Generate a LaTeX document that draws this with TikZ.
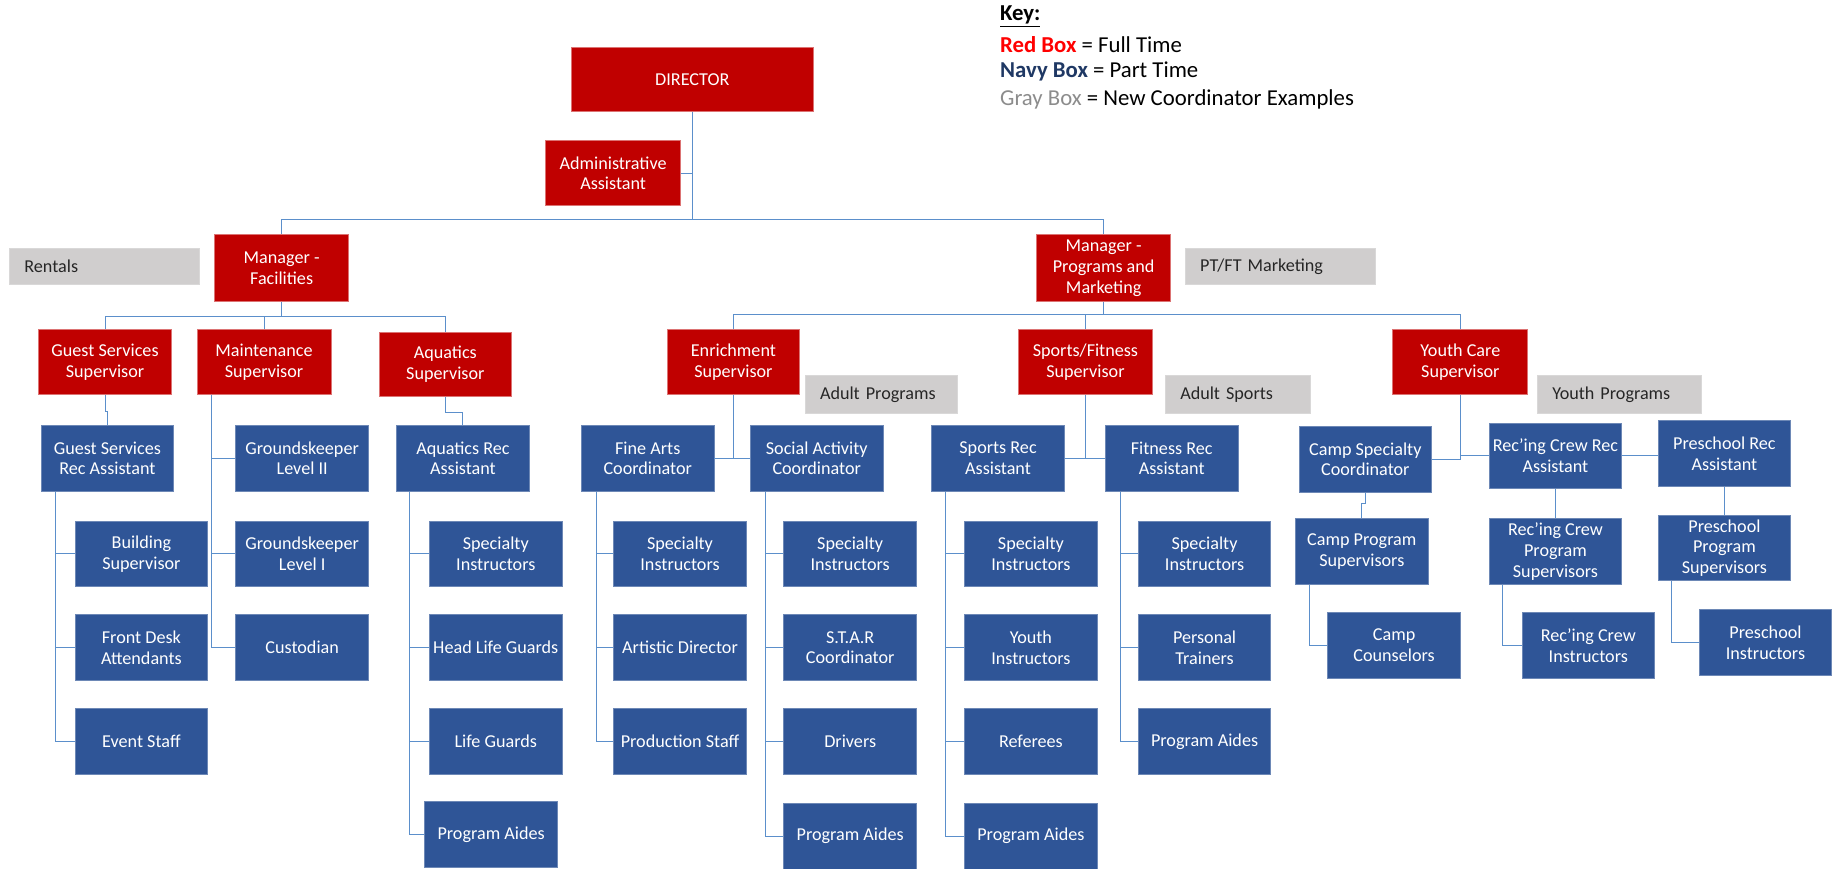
\documentclass[tikz,border=0pt]{standalone}
\usepackage{fontspec}
\setmainfont{Carlito}
\usepackage{tikz}
\usetikzlibrary{calc,positioning}
\definecolor{fullred}{HTML}{C00000}
\definecolor{partnavy}{HTML}{2F5597}
\definecolor{newgray}{HTML}{D0CECE}
\definecolor{linkblue}{HTML}{5B8FCB}
\definecolor{keyred}{HTML}{FF0000}
\definecolor{keynavy}{HTML}{1F3864}
\definecolor{keygray}{HTML}{8C8C8C}
\tikzstyle{link}=[
  draw=linkblue,
  line width=0.6pt,
]
\tikzstyle{box}=[
  align=center,
  inner sep=1pt,
  minimum width=2.825cm,
  minimum height=1.4cm,
  text=white,
  line width=0.5pt,
  font=\fontsize{11}{12.5}\selectfont,
]
\tikzstyle{redbox}=[box, fill=fullred, draw=fullred!55!white]
\tikzstyle{navybox}=[box, fill=partnavy, draw=partnavy!70!white]
\tikzstyle{keytext}=[anchor=west, inner sep=0pt, font=\fontsize{13.8}{16}\selectfont]
\tikzset{
  graybox/.style={
    fill=newgray, draw=newgray!80!white, text=black!85,
    align=left, inner xsep=0.32cm, inner ysep=1pt,
    minimum height=0.78cm, text width=#1,
    font=\fontsize{11}{12.5}\selectfont,
  },
}

\begin{document}
\begin{tikzpicture}[x=0.025cm, y=-0.025cm]
  \useasboundingbox (0,0) rectangle (1568,740);

  % key
  \node[keytext] (keyhead) at (852,14) {\underline{\textbf{Key:}}};
  \node[keytext] (keyred) at (852,38) {\textbf{\color{keyred}Red Box} = Full Time};
  \node[keytext] (keynavy) at (852,61) {\textbf{\color{keynavy}Navy Box} = Part Time};
  \node[keytext] (keygray) at (852,85) {{\color{keygray}Gray Box} = New Coordinator Examples};

  \node[redbox, minimum width=5.15cm, minimum height=1.375cm] (dir) at (590,67.5) {DIRECTOR};
  \node[redbox, minimum width=2.875cm, minimum height=1.375cm] (admin) at (522.5,147.5) {Administrative\\Assistant};
  \node[redbox, minimum width=2.85cm, minimum height=1.425cm] (mfac) at (240,228.5) {Manager -\\Facilities};
  \node[redbox, minimum width=2.85cm, minimum height=1.425cm] (mprog) at (940.5,228.5) {Manager -\\Programs and\\Marketing};
  \node[graybox=3.41cm] (rentals) at (89,227) {Rentals};
  \node[graybox=3.41cm] (ptft) at (1091,227) {PT/FT Marketing};

  \coordinate (topbus) at (590,187);
  \draw[link] (dir.south) -- (topbus) -| (mfac.north);
  \draw[link] (topbus) -| (mprog.north);
  \draw[link] (admin.east) -| (topbus);

  % facilities
  \node[redbox, minimum height=1.375cm] (gss) at (89.5,308.5) {Guest Services\\Supervisor};
  \node[redbox, minimum height=1.375cm, minimum width=2.85cm] (mts) at (225,308.5) {Maintenance\\Supervisor};
  \node[redbox, minimum height=1.375cm] (aqs) at (379.5,310.5) {Aquatics\\Supervisor};
  \coordinate (facbus) at (240,270);
  \draw[link] (mfac.south) -- (facbus) -| (gss.north);
  \draw[link] (facbus) -| (mts.north);
  \draw[link] (facbus) -| (aqs.north);

  \node[navybox] (gsra) at (91.5,390.5) {Guest Services\\Rec Assistant};
  \node[navybox] (bsup) at (120.5,472) {Building\\Supervisor};
  \node[navybox] (fda) at (120.5,552) {Front Desk\\Attendants};
  \node[navybox] (evs) at (120.5,632) {Event Staff};
  \draw[link] (gss.south) -- ++(0,14) -| (gsra.north);
  \foreach \c in {bsup,fda,evs}
    \draw[link] ($(gsra.south west)+(13,0)$) |- (\c.west);

  \node[navybox] (gk2) at (257.5,390.5) {Groundskeeper\\Level II};
  \node[navybox] (gk1) at (257.5,472) {Groundskeeper\\Level I};
  \node[navybox] (cust) at (257.5,552) {Custodian};
  \foreach \c in {gk2,gk1,cust}
    \draw[link] ($(mts.south west)+(13,0)$) |- (\c.west);

  \node[navybox] (aqra) at (394.5,390.5) {Aquatics Rec\\Assistant};
  \node[navybox] (aqsi) at (422.5,472) {Specialty\\Instructors};
  \node[navybox] (hlg) at (422.5,552) {Head Life Guards};
  \node[navybox] (lg) at (422.5,632) {Life Guards};
  \node[navybox] (aqpa) at (418.5,711) {Program Aides};
  \draw[link] (aqs.south) -- ++(0,13) -| (aqra.north);
  \foreach \c in {aqsi,hlg,lg,aqpa}
    \draw[link] ($(aqra.south west)+(11,0)$) |- (\c.west);

  % programs and marketing
  \node[redbox, minimum height=1.375cm] (ens) at (625,308.5) {Enrichment\\Supervisor};
  \node[redbox, minimum height=1.375cm, minimum width=2.85cm] (sfs) at (925,308.5) {Sports/Fitness\\Supervisor};
  \node[redbox, minimum height=1.375cm, minimum width=2.875cm] (ycs) at (1244.5,308.5) {Youth Care\\Supervisor};
  \node[graybox=2.61cm, minimum height=0.8cm] (adp) at (751,336) {Adult Programs};
  \node[graybox=2.46cm, minimum height=0.8cm] (ads) at (1055,336) {Adult Sports};
  \node[graybox=2.86cm, minimum height=0.8cm] (ytp) at (1380,336) {Youth Programs};
  \coordinate (progbus) at (940.5,268);
  \draw[link] (mprog.south) -- (progbus) -| (ens.north);
  \draw[link] (progbus) -| (sfs.north);
  \draw[link] (progbus) -| (ycs.north);

  \node[navybox] (fac) at (552,390.5) {Fine Arts\\Coordinator};
  \node[navybox] (sac) at (696,390.5) {Social Activity\\Coordinator};
  \draw[link] (ens.south) -- (ens.south |- fac.east);
  \draw[link] (fac.east) -- (sac.west);

  \node[navybox] (fasi) at (579.5,472) {Specialty\\Instructors};
  \node[navybox] (ard) at (579.5,552) {Artistic Director};
  \node[navybox] (prs) at (579.5,632) {Production Staff};
  \foreach \c in {fasi,ard,prs}
    \draw[link] ($(fac.south west)+(13,0)$) |- (\c.west);

  \node[navybox] (sasi) at (724.5,472) {Specialty\\Instructors};
  \node[navybox] (star) at (724.5,552) {S.T.A.R\\Coordinator};
  \node[navybox] (drv) at (724.5,632) {Drivers};
  \node[navybox] (sapa) at (724.5,712.5) {Program Aides};
  \foreach \c in {sasi,star,drv,sapa}
    \draw[link] ($(sac.south west)+(13,0)$) |- (\c.west);

  \node[navybox] (srra) at (850.5,390.5) {Sports Rec\\Assistant};
  \node[navybox] (frra) at (998.5,390.5) {Fitness Rec\\Assistant};
  \draw[link] (sfs.south) -- (sfs.south |- srra.east);
  \draw[link] (srra.east) -- (frra.west);

  \node[navybox] (srsi) at (878.5,472) {Specialty\\Instructors};
  \node[navybox] (yin) at (878.5,552) {Youth\\Instructors};
  \node[navybox] (refs) at (878.5,632) {Referees};
  \node[navybox] (srpa) at (878.5,712.5) {Program Aides};
  \foreach \c in {srsi,yin,refs,srpa}
    \draw[link] ($(srra.south west)+(12,0)$) |- (\c.west);

  \node[navybox] (frsi) at (1026.5,472) {Specialty\\Instructors};
  \node[navybox] (ptr) at (1026.5,552) {Personal\\Trainers};
  \node[navybox] (frpa) at (1026.5,632) {Program Aides};
  \foreach \c in {frsi,ptr,frpa}
    \draw[link] ($(frra.south west)+(13,0)$) |- (\c.west);

  % youth care
  \node[navybox] (csc) at (1163.5,391.5) {Camp Specialty\\Coordinator};
  \node[navybox] (rcra) at (1325.5,388.5) {Rec’ing Crew Rec\\Assistant};
  \node[navybox] (psra) at (1469.5,386.5) {Preschool Rec\\Assistant};
  \draw[link] (ycs.south) |- (rcra.west);
  \draw[link] (ycs.south |- rcra.west) |- (csc.east);
  \draw[link] (rcra.east) -- (rcra.east -| psra.west);

  \node[navybox] (cps) at (1160.5,470) {Camp Program\\Supervisors};
  \node[navybox] (cc) at (1188,550) {Camp\\Counselors};
  \draw[link] (csc.south) -- ++(0,9) -| (cps.north);
  \draw[link] ($(cps.south west)+(12,0)$) |- (cc.west);

  \node[navybox] (rcps) at (1325.5,470) {Rec’ing Crew\\Program\\Supervisors};
  \node[navybox] (rci) at (1353.5,550) {Rec’ing Crew\\Instructors};
  \draw[link] (rcra.south) -- (rcps.north);
  \draw[link] ($(rcps.south west)+(12,0)$) |- (rci.west);

  \node[navybox] (psps) at (1469.5,467) {Preschool\\Program\\Supervisors};
  \node[navybox] (psi) at (1504.5,547.5) {Preschool\\Instructors};
  \draw[link] (psra.south) -- (psps.north);
  \draw[link] ($(psps.south west)+(12,0)$) |- (psi.west);
\end{tikzpicture}
\end{document}
